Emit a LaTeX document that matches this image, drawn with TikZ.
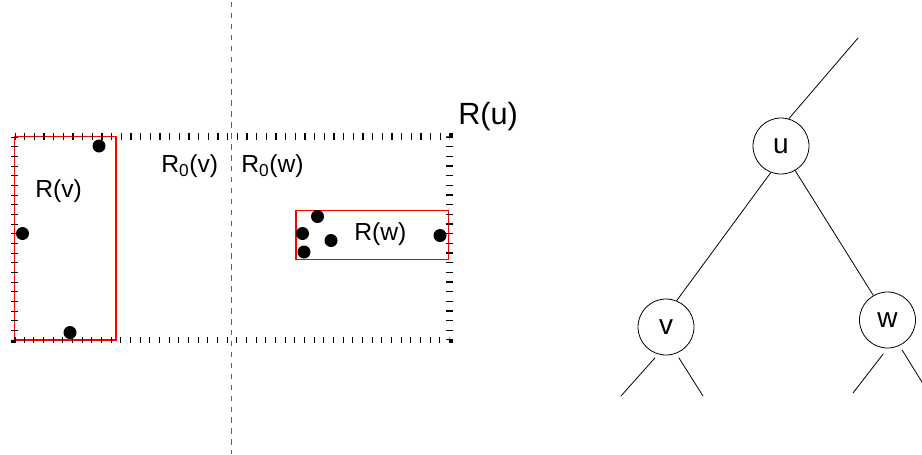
\documentclass[tikz,border=0pt]{standalone}
\usepackage{fontspec}
\setmainfont{Liberation Sans}

\begin{document}
\begin{tikzpicture}[x=0.75pt, y=-0.75pt,
    lbl/.style={anchor=base west, inner sep=0pt, font=\fontsize{18.5}{20}\selectfont},
    knot/.style={draw, circle, minimum size=42pt, inner sep=0pt, line width=0.6pt, font=\fontsize{21}{24}\selectfont},
    branch/.style={line width=0.6pt},
    ticks/.style={line width=4.9pt, dash pattern=on 0.8pt off 6.45pt},
    split/.style={draw=green!65!black, line width=0.8pt, dash pattern=on 4.1pt off 4.1pt}]
    \useasboundingbox (0,0) rectangle (922,454);
    \draw[split] (231.5,2) -- (231.5,454);
    \draw[red, line width=0.8pt] (14.5,136.5) rectangle (116,340);
    \draw[red, line width=0.8pt] (296,210.5) rectangle (448.5,259.5);
    \draw[ticks] (14.5,136.5) rectangle (449.5,340);
    \foreach \x/\y in {99/146, 22.5/233.5, 70/332.5, 317.5/216.5, 302.5/233.5, 304/252, 331/240.5, 440/235.5}
      \fill (\x,\y) circle (6.5);
    \node[lbl] (Rv) at (35,197) {R(v)};
    \node[lbl] (R0v) at (161,172) {R\textsubscript{0}(v)};
    \node[lbl] (R0w) at (241,172) {R\textsubscript{0}(w)};
    \node[lbl] (Rw) at (354,240) {R(w)};
    \node[lbl, font=\fontsize{23}{26}\selectfont] (Ru) at (458,124) {R(u)};
    \node[knot] (u) at (781,146) {u};
    \node[knot] (v) at (666,327) {v};
    \node[knot] (w) at (887.5,320) {w};
    \coordinate (top) at (858,38);
    \coordinate (vl) at (621,396);
    \coordinate (vr) at (703,396);
    \coordinate (wl) at (853,393);
    \coordinate (wr) at (925,387);
    \draw[branch] (u.74) -- (top);
    \draw[branch] (u.-111) -- (v.68);
    \draw[branch] (u.-60) -- (w.120);
    \draw[branch, shorten <=3.5pt] (v.-106) -- (vl);
    \draw[branch, shorten <=3.5pt] (v.-69) -- (vr);
    \draw[branch, shorten <=5pt] (w.-90) -- (wl);
    \draw[branch, shorten <=3.5pt] (w.-65) -- (wr);
  \end{tikzpicture}
\end{document}
